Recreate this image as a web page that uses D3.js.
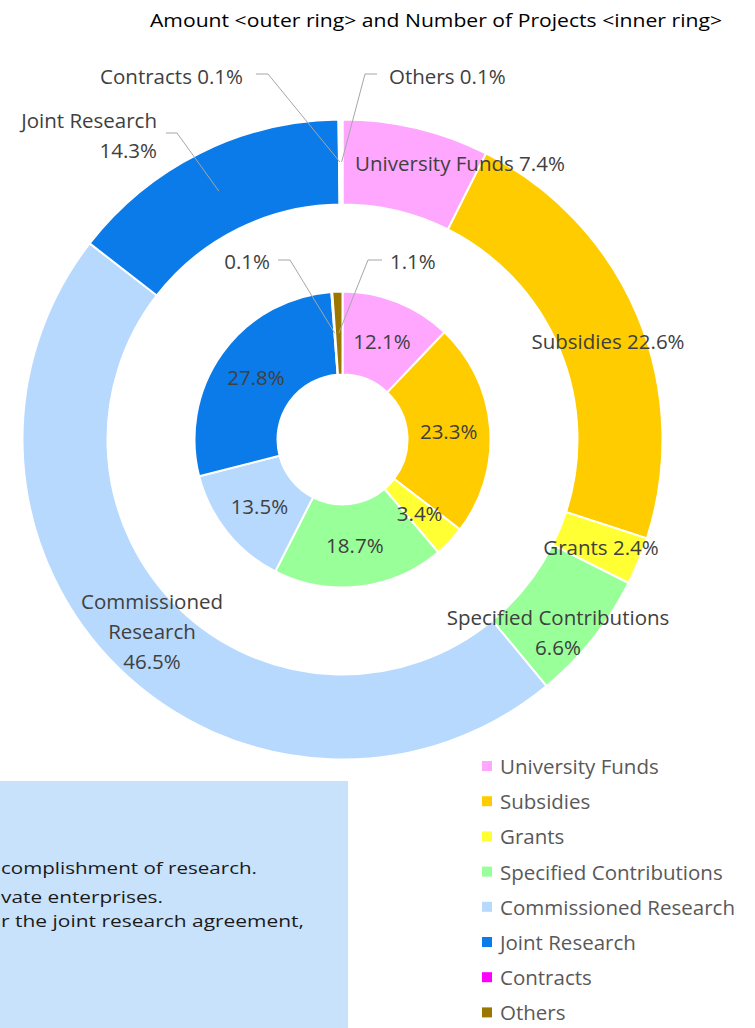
<!DOCTYPE html>
<html>
<head>
<meta charset="utf-8">
<script src="https://cdn.jsdelivr.net/npm/d3@7"></script>
<style>
  body { margin: 0; background: #fff; }
  svg { display: block; font-family: "Open Sans", sans-serif; }
</style>
</head>
<body>
<svg width="755" height="1028"></svg>
<script>
// data (percent shares)
var categories = ['University Funds', 'Subsidies', 'Grants', 'Specified Contributions',
                  'Commissioned Research', 'Joint Research', 'Contracts', 'Others'];
var amountShare = [7.4, 22.6, 2.4, 6.6, 46.5, 14.3, 0.1, 0.1];     // outer ring
var projectShare = [12.1, 23.3, 3.4, 18.7, 13.5, 27.8, 0.1, 1.1];  // inner ring
var colors = ['#ffa6ff', '#ffcc00', '#ffff33', '#99ff99', '#b7d9fd', '#0a7be8', '#ff00ff', '#9a7700'];
// note box lines (the box is cropped on the left in the original)
var noteLines = ['complishment of research.', 'vate enterprises.', 'r the joint research agreement,'];

var svg = d3.select('svg');
var cx = 342.5, cy = 439.5;
var rings = {outer: [235, 320], inner: [65, 148]};

var color = d3.scaleOrdinal().domain(categories).range(colors);
var pie = d3.pie().sort(null).value(function(d) { return d.value; });

function toRows(values) {
    return values.map(function(v, i) { return {name: categories[i], value: v}; });
}

var chartG = svg.append('g')
    .attr('transform', 'translate(' + [cx, cy] + ')');

// label layout (positions in page coordinates), one entry per slice
var outerLayout = [
    {x: 460, y: 163, anchor: 'middle', split: false},
    {x: 608, y: 341, anchor: 'middle', split: false},
    {x: 601, y: 547, anchor: 'middle', split: false},
    {x: 558, y: 632, anchor: 'middle', split: 'last'},
    {x: 152, y: 631, anchor: 'middle', split: 'all'},
    {x: 157, y: 135, anchor: 'end', split: 'last', leader: [[166, 133], [177, 133]]},
    {x: 243, y: 76, anchor: 'end', split: false, leader: [[256, 74], [268, 74]]},
    {x: 389, y: 76, anchor: 'start', split: false, leader: [[377, 74], [365, 74]]}
];
var innerLayout = [
    null, null, null, null, null, null,
    {x: 270, y: 261, anchor: 'end', leader: [[278, 260], [290, 260]]},
    {x: 390, y: 261, anchor: 'start', leader: [[382, 260], [368, 260]]}
];

function drawRing(values, radii, layout, named) {
    var arc = d3.arc().innerRadius(radii[0]).outerRadius(radii[1]);
    var arcs = pie(toRows(values));

    chartG.append('g').selectAll('path')
        .data(arcs)
        .enter()
        .append('path')
        .attr('d', arc)
        .attr('fill', function(d) { return color(d.data.name); })
        .attr('stroke', '#fff')
        .attr('stroke-width', 2);

    var labelG = svg.append('g')
        .attr('font-size', '20.5px')
        .attr('fill', '#404040');

    arcs.forEach(function(d, i) {
        var c = arc.centroid(d);
        var pc = [c[0] + cx, c[1] + cy];
        var lay = layout[i] || {x: pc[0], y: pc[1], anchor: 'middle'};
        var pct = d.data.value.toFixed(1) + '%';
        var lines;
        if (!named) lines = [pct];
        else if (lay.split === 'all') lines = d.data.name.split(' ').concat([pct]);
        else if (lay.split === 'last') lines = [d.data.name, pct];
        else lines = [d.data.name + ' ' + pct];

        if (lay.leader) {
            labelG.append('path')
                .attr('d', d3.line()(lay.leader.concat([pc])))
                .attr('fill', 'none')
                .attr('stroke', '#a6a6a6')
                .attr('stroke-width', 1);
        }
        var text = labelG.append('text')
            .attr('text-anchor', lay.anchor);
        lines.forEach(function(s, k) {
            text.append('tspan')
                .attr('x', lay.x)
                .attr('y', lay.y + (k - (lines.length - 1) / 2) * 30)
                .attr('dominant-baseline', 'central')
                .text(s);
        });
    });
}

drawRing(amountShare, rings.outer, outerLayout, true);
drawRing(projectShare, rings.inner, innerLayout, false);

// title
svg.append('text')
    .attr('x', 150)
    .attr('y', 20)
    .attr('dominant-baseline', 'central')
    .attr('font-size', '19px')
    .attr('textLength', 572)
    .attr('lengthAdjust', 'spacingAndGlyphs')
    .attr('fill', '#000')
    .text('Amount <outer ring> and Number of Projects <inner ring>');

// note box
svg.append('rect')
    .attr('x', 0).attr('y', 781)
    .attr('width', 348).attr('height', 247)
    .attr('fill', '#c9e2fb');

var noteY = [867, 896, 920];
var noteWidth = [256, 162, 303];
svg.append('g')
    .attr('font-size', '17px')
    .attr('fill', '#1a1a1a')
    .selectAll('text')
    .data(noteLines)
    .enter()
    .append('text')
    .attr('x', 1)
    .attr('y', function(d, i) { return noteY[i]; })
    .attr('textLength', function(d, i) { return noteWidth[i]; })
    .attr('lengthAdjust', 'spacingAndGlyphs')
    .attr('dominant-baseline', 'central')
    .text(function(d) { return d; });

// legend
var legend = svg.append('g')
    .attr('transform', 'translate(482,766)');
var items = legend.selectAll('.item')
    .data(categories)
    .enter()
    .append('g')
    .attr('class', 'item')
    .attr('transform', function(d, i) { return 'translate(' + [0, i * 35.2] + ')'; });
items.append('rect')
    .attr('x', 0).attr('y', -5)
    .attr('width', 10).attr('height', 10)
    .attr('fill', function(d) { return color(d); });
items.append('text')
    .attr('x', 18)
    .attr('dominant-baseline', 'central')
    .attr('font-size', '20.5px')
    .attr('fill', '#595959')
    .text(function(d) { return d; });
</script>
</body>
</html>
